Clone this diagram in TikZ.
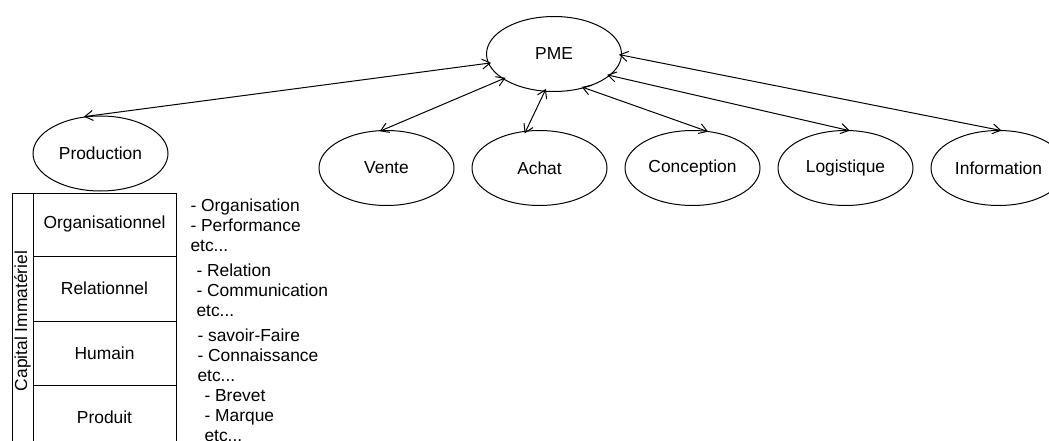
\documentclass[tikz,border=0pt]{standalone}
\usepackage{fontspec}
\setmainfont{Liberation Sans}
\usetikzlibrary{arrows.meta,positioning,shapes.geometric}

\begin{document}
\begin{tikzpicture}[x=1pt,y=-1pt,line width=1pt,node distance=17pt,
  every node/.style={font=\fontsize{17.4}{20}\selectfont},
  bulle/.style={draw,ellipse,minimum width=135pt,minimum height=75pt,inner sep=0pt},
  case/.style={draw,minimum width=143pt,inner sep=0pt,outer sep=0pt},
  liste/.style={align=left,anchor=base west,inner sep=0pt},
  lien/.style={{Straight Barb[length=8pt,width=10pt]}-{Straight Barb[length=8pt,width=10pt]},shorten <=-3pt,shorten >=-3pt}]
  \useasboundingbox (0,0) rectangle (1049,441);
  % ellipses
  \node[bulle] (pme) at (554,54) {PME};
  \node[bulle] (prod) at (100.5,153.5) {Production};
  \node[bulle] (vente) at (386.5,168) {Vente};
  \node[bulle,right=of vente] (achat) {Achat};
  \node[bulle,right=of achat] (conc) {Conception};
  \node[bulle,right=of conc] (logi) {Logistique};
  \node[bulle,right=of logi] (info) {Information};
  % tableau du capital immateriel
  \node[case,minimum height=63pt,anchor=north west] (orga) at (33,193) {Organisationnel};
  \node[case,minimum height=65pt,below=0pt of orga] (rela) {Relationnel};
  \node[case,minimum height=64pt,below=0pt of rela] (hum) {Humain};
  \node[case,minimum height=64pt,below=0pt of hum] (prodt) {Produit};
  \node[draw,rotate=90,minimum width=256pt,minimum height=21pt,inner sep=0pt,outer sep=0pt,anchor=south east] (capital) at (orga.north west) {Capital Immatériel};
  % listes (ancrees sur la derniere ligne)
  \node[liste] (torga) at (190,251) {- Organisation\\- Performance\\etc...};
  \node[liste] (trela) at (196,316.5) {- Relation\\- Communication\\etc...};
  \node[liste] (thum) at (197,381.5) {- savoir-Faire\\- Connaissance\\etc...};
  \node[liste] (tprodt) at (204,441.5) {- Brevet\\- Marque\\etc...};
  % liens
  \draw[lien] (pme.188) -- (prod.110);
  \draw[lien] (pme.206) -- (vente.96);
  \draw[lien] (pme.256) -- (achat.110);
  \draw[lien] (pme.312) -- (conc.71);
  \draw[lien] (pme.339) -- (logi.88);
  \draw[lien] (pme.359) -- (info.90);
\end{tikzpicture}
\end{document}
